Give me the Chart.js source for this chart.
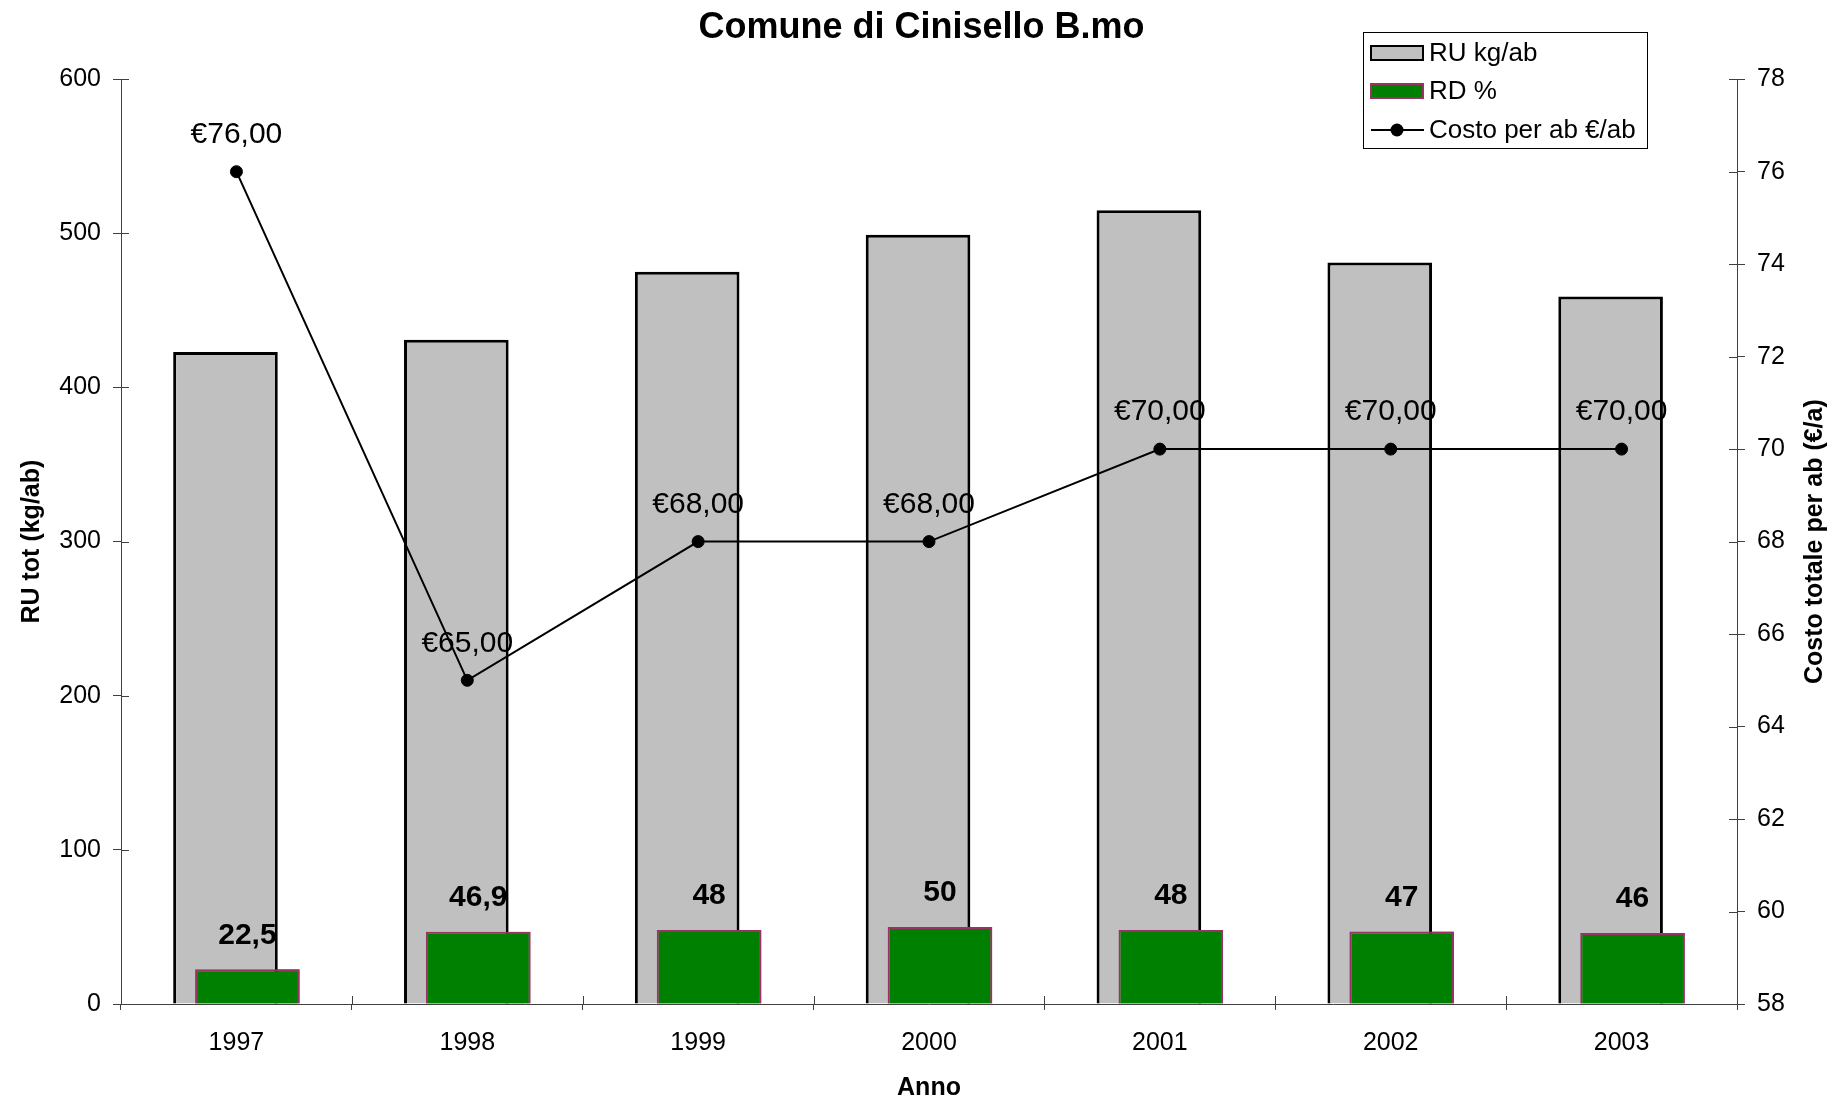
<!DOCTYPE html>
<html>
<head>
<meta charset="utf-8">
<title>Comune di Cinisello B.mo</title>
<script src="https://cdn.jsdelivr.net/npm/chart.js@4.4.1/dist/chart.umd.min.js"></script>
<style>
  html, body { margin: 0; padding: 0; background: #fff; }
  .chart_box { width: 1843px; height: 1097px; }
</style>
</head>
<body>
<div class="chart_box"><canvas id="chart"></canvas></div>
<script>
const years = ["1997", "1998", "1999", "2000", "2001", "2002", "2003"];
const ruKgAb = [423, 431, 475, 499, 515, 481, 459];
const rdPercent = [22.5, 46.9, 48, 50, 48, 47, 46];
const costoAb = [76, 65, 68, 68, 70, 70, 70];

const FONT = "'Liberation Sans', Arial, sans-serif";
const AXIS_COLOR = "#404040";

const fmtComma = v => String(v).replace(".", ",");
const fmtEuro = v => "€" + v.toFixed(2).replace(".", ",");

// gray bars are dataset 0 (left slot) but the green ones sit on top of them
const greenOnTop = {
  id: "greenOnTop",
  afterDatasetDraw(chart, args) {
    if (args.index === 0) chart.getDatasetMeta(1).controller.draw();
  }
};

const valueLabels = {
  id: "valueLabels",
  afterDatasetsDraw(chart) {
    const ctx = chart.ctx;
    ctx.save();
    ctx.fillStyle = "#000";
    ctx.textAlign = "center";
    ctx.textBaseline = "middle";

    ctx.font = "bold 30px " + FONT;
    chart.getDatasetMeta(1).data.forEach((bar, i) => {
      ctx.fillText(fmtComma(rdPercent[i]), bar.x, bar.y - 34);
    });

    ctx.font = "30px " + FONT;
    chart.getDatasetMeta(2).data.forEach((pt, i) => {
      ctx.fillText(fmtEuro(costoAb[i]), pt.x, pt.y - 37);
    });
    ctx.restore();
  }
};

const extras = {
  id: "extras",
  afterDraw(chart) {
    const ctx = chart.ctx;
    const area = chart.chartArea;
    const {x, y, y2} = chart.scales;
    ctx.save();

    // inner halves of the crossing tick marks
    ctx.strokeStyle = AXIS_COLOR;
    ctx.lineWidth = 1;
    ctx.beginPath();
    y.ticks.forEach((t, i) => {
      const py = Math.round(y.getPixelForTick(i)) + 0.5;
      ctx.moveTo(area.left, py); ctx.lineTo(area.left + 8, py);
    });
    y2.ticks.forEach((t, i) => {
      const py = Math.round(y2.getPixelForTick(i)) + 0.5;
      ctx.moveTo(area.right, py); ctx.lineTo(area.right - 8, py);
    });
    const step = x.getPixelForValue(1) - x.getPixelForValue(0);
    for (let i = 0; i <= years.length; i++) {
      const px = Math.round(x.getPixelForValue(0) - step / 2 + i * step) + 0.5;
      ctx.moveTo(px, area.bottom); ctx.lineTo(px, area.bottom - 8);
    }
    ctx.stroke();

    // right axis title, reading bottom to top
    ctx.fillStyle = "#000";
    ctx.font = "bold 25px " + FONT;
    ctx.textAlign = "center";
    ctx.textBaseline = "middle";
    ctx.translate(1815, (area.top + area.bottom) / 2);
    ctx.rotate(-Math.PI / 2);
    ctx.fillText("Costo totale per ab (€/a)", 0, 0);
    ctx.restore();

    // legend box
    ctx.save();
    const bx = 1363, by = 32, bw = 284, bh = 116;
    ctx.fillStyle = "#fff";
    ctx.fillRect(bx, by, bw, bh);
    ctx.strokeStyle = "#000";
    ctx.lineWidth = 1;
    ctx.strokeRect(bx + 0.5, by + 0.5, bw, bh);

    const ds = chart.data.datasets;
    const rows = [53, 91, 130];
    ctx.font = "26px " + FONT;
    ctx.textAlign = "left";
    ctx.textBaseline = "middle";
    ds.forEach((d, i) => {
      const ry = rows[i];
      if (d.type === "line") {
        ctx.strokeStyle = "#000";
        ctx.lineWidth = 2;
        ctx.beginPath();
        ctx.moveTo(1371, ry); ctx.lineTo(1424, ry);
        ctx.stroke();
        ctx.fillStyle = "#000";
        ctx.beginPath();
        ctx.arc(1397, ry, 6.5, 0, Math.PI * 2);
        ctx.fill();
      } else {
        ctx.fillStyle = d.backgroundColor;
        ctx.fillRect(1371, ry - 7, 52, 14);
        ctx.strokeStyle = d.borderColor;
        ctx.lineWidth = 2;
        ctx.strokeRect(1371, ry - 7, 52, 14);
      }
      ctx.fillStyle = "#000";
      ctx.fillText(d.label, 1429, ry + 1);
    });
    ctx.restore();
  }
};

const tickFont = { family: FONT, size: 25 };
const titleFont = { family: FONT, size: 25, weight: "bold", lineHeight: 1 };

new Chart(document.getElementById("chart"), {
  data: {
    labels: years,
    datasets: [
      {
        type: "bar",
        label: "RU kg/ab",
        data: ruKgAb,
        yAxisID: "y",
        order: 1,
        backgroundColor: "#c0c0c0",
        borderColor: "#000",
        borderWidth: 3,
        categoryPercentage: 0.19,
        barPercentage: 4.77
      },
      {
        type: "bar",
        label: "RD %",
        data: rdPercent,
        yAxisID: "y",
        order: 1,
        backgroundColor: "#008000",
        borderColor: "#993366",
        borderWidth: 2,
        categoryPercentage: 0.19,
        barPercentage: 4.77
      },
      {
        type: "line",
        label: "Costo per ab €/ab",
        data: costoAb,
        yAxisID: "y2",
        order: 0,
        borderColor: "#000",
        borderWidth: 2,
        backgroundColor: "#000",
        pointRadius: 6,
        pointBorderWidth: 1,
        tension: 0
      }
    ]
  },
  options: {
    responsive: true,
    maintainAspectRatio: false,
    devicePixelRatio: 1,
    animation: false,
    layout: { padding: 0 },
    plugins: {
      legend: { display: false },
      tooltip: { enabled: false },
      title: {
        display: true,
        text: "Comune di Cinisello B.mo",
        color: "#000",
        font: { family: FONT, size: 36, weight: "bold" },
        padding: { top: 6, bottom: 30 }
      }
    },
    scales: {
      x: {
        offset: true,
        grid: { offset: true, drawOnChartArea: false, tickLength: 6, color: AXIS_COLOR },
        border: { color: AXIS_COLOR },
        ticks: { font: tickFont, color: "#000", padding: 18, maxRotation: 0 },
        title: { display: true, text: "Anno", color: "#000", font: { family: FONT, size: 25, weight: "bold", lineHeight: 0.75 }, padding: { top: 0, bottom: 0 } },
        afterFit: s => { s.height = 93; }
      },
      y: {
        position: "left",
        min: 0,
        max: 600,
        ticks: { stepSize: 100, font: tickFont, color: "#000", padding: 12 },
        grid: { drawOnChartArea: false, tickLength: 8, color: AXIS_COLOR },
        border: { color: AXIS_COLOR },
        title: { display: true, text: "RU tot (kg/ab)", color: "#000", font: titleFont, padding: { top: 20, bottom: 0 } },
        afterFit: s => { s.width = 121; }
      },
      y2: {
        position: "right",
        min: 58,
        max: 78,
        ticks: { stepSize: 2, font: tickFont, color: "#000", padding: 12 },
        grid: { drawOnChartArea: false, tickLength: 8, color: AXIS_COLOR },
        border: { color: AXIS_COLOR },
        afterFit: s => { s.width = 106; }
      }
    }
  },
  plugins: [greenOnTop, valueLabels, extras]
});
</script>
</body>
</html>
